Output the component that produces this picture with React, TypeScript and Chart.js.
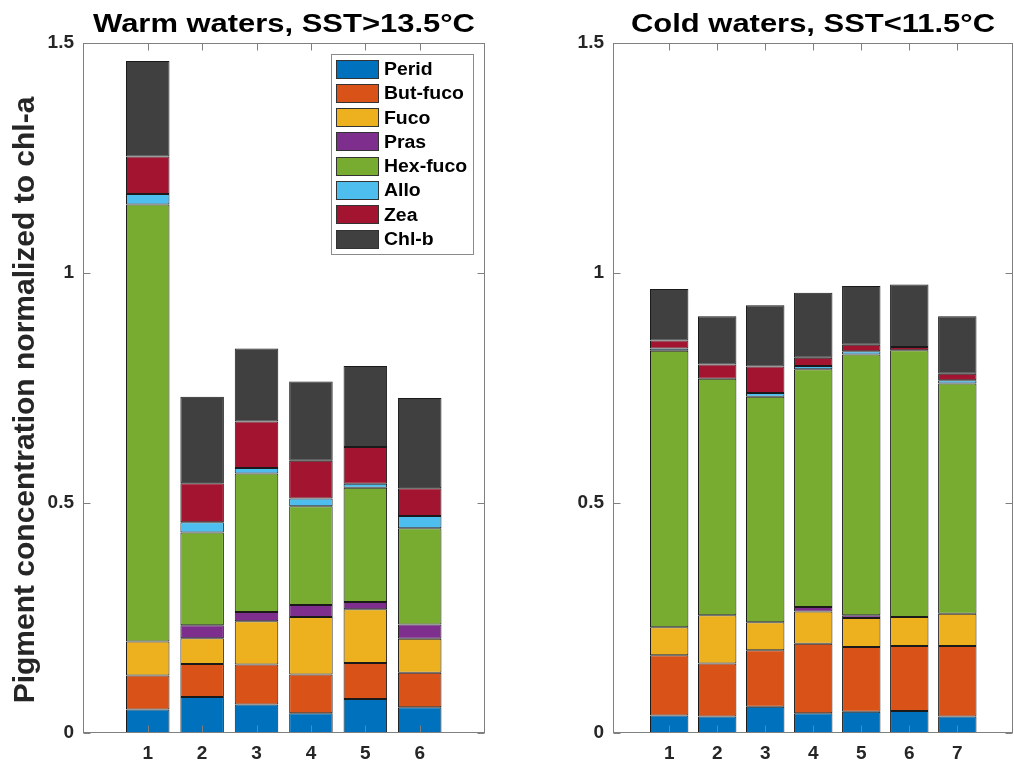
import React, { useEffect, useRef } from 'react';
import { Chart, registerables } from 'chart.js';

Chart.register(...registerables);

const FONT = "'Liberation Sans', Arial, Helvetica, sans-serif";

// ---- data ----
const pigments = ['Perid', 'But-fuco', 'Fuco', 'Pras', 'Hex-fuco', 'Allo', 'Zea', 'Chl-b'];
const pigmentColors = ['#0072BD', '#D95319', '#EDB120', '#7E2F8E', '#77AC30', '#4DBEEE', '#A2142F', '#404040'];

const yTicks = [0, 0.5, 1, 1.5];

const warmCats = [1, 2, 3, 4, 5, 6];
const warmPerid = [0.051, 0.078, 0.062, 0.043, 0.074, 0.056];
const warmButfuco = [0.074, 0.072, 0.087, 0.084, 0.078, 0.075];
const warmFuco = [0.074, 0.056, 0.094, 0.125, 0.117, 0.074];
const warmPras = [0, 0.028, 0.02, 0.026, 0.016, 0.031];
const warmHexfuco = [0.95, 0.202, 0.301, 0.215, 0.248, 0.209];
const warmAllo = [0.023, 0.022, 0.012, 0.017, 0.009, 0.027];
const warmZea = [0.081, 0.085, 0.101, 0.082, 0.08, 0.06];
const warmChlb = [0.208, 0.188, 0.159, 0.172, 0.176, 0.196];

const coldCats = [1, 2, 3, 4, 5, 6, 7];
const coldPerid = [0.038, 0.036, 0.057, 0.043, 0.046, 0.048, 0.036];
const coldButfuco = [0.131, 0.115, 0.123, 0.151, 0.141, 0.141, 0.153];
const coldFuco = [0.061, 0.105, 0.061, 0.07, 0.063, 0.063, 0.07];
const coldPras = [0, 0, 0, 0.01, 0.006, 0, 0];
const coldHexfuco = [0.601, 0.514, 0.49, 0.517, 0.567, 0.58, 0.501];
const coldAllo = [0.005, 0, 0.008, 0.007, 0.007, 0, 0.007];
const coldZea = [0.017, 0.031, 0.058, 0.018, 0.014, 0.007, 0.014];
const coldChlb = [0.112, 0.105, 0.133, 0.141, 0.128, 0.136, 0.125];

const warmSeries = [warmPerid, warmButfuco, warmFuco, warmPras, warmHexfuco, warmAllo, warmZea, warmChlb];
const coldSeries = [coldPerid, coldButfuco, coldFuco, coldPras, coldHexfuco, coldAllo, coldZea, coldChlb];

const warmTitle = 'Warm waters, SST>13.5°C';
const coldTitle = 'Cold waters, SST<11.5°C';
const yLabel = 'Pigment concentration normalized to chl-a';

// ---- styles ----
const AXIS_COLOR = '#808080';
const TEXT_COLOR = '#262626';
const TICK_LEN = 7;

interface PanelSpec {
  title: string;
  cats: number[];
  series: number[][];
  xMin: number;
  xMax: number;
  yAxisWidth: number;
  padRight: number;
  showLegend: boolean;
  showYLabel: boolean;
}

function panelPlugin(spec: PanelSpec) {
  return {
    id: 'matlabPanel',
    afterDatasetsDraw(chart: any) {
      const { ctx, chartArea: a, scales } = chart;
      const xs = scales.x;
      const ys = scales.y;
      ctx.save();
      // box
      ctx.strokeStyle = AXIS_COLOR;
      ctx.lineWidth = 1;
      const L = Math.round(a.left) + 0.5;
      const R = Math.round(a.right) - 0.5;
      const T = Math.round(a.top) + 0.5;
      const B = Math.round(a.bottom) - 0.5;
      ctx.strokeRect(L, T, R - L, B - T);
      // ticks (inward)
      ctx.beginPath();
      for (const t of yTicks) {
        const py = Math.round(ys.getPixelForValue(t)) + 0.5;
        ctx.moveTo(L, py);
        ctx.lineTo(L + TICK_LEN, py);
        ctx.moveTo(R, py);
        ctx.lineTo(R - TICK_LEN, py);
      }
      for (const c of spec.cats) {
        const px = Math.round(xs.getPixelForValue(c)) + 0.5;
        ctx.moveTo(px, B);
        ctx.lineTo(px, B - TICK_LEN);
        ctx.moveTo(px, T);
        ctx.lineTo(px, T + TICK_LEN);
      }
      ctx.stroke();

      // title
      ctx.fillStyle = '#000';
      ctx.font = `bold 26px ${FONT}`;
      ctx.textAlign = 'center';
      ctx.textBaseline = 'alphabetic';
      const cx = (a.left + a.right) / 2;
      ctx.save();
      ctx.translate(cx, 32);
      ctx.scale(1.19, 1);
      ctx.fillText(spec.title, 0, 0);
      ctx.restore();

      // y label
      if (spec.showYLabel) {
        ctx.save();
        ctx.font = `bold 30px ${FONT}`;
        ctx.fillStyle = TEXT_COLOR;
        ctx.translate(34, 400);
        ctx.rotate(-Math.PI / 2);
        ctx.textAlign = 'center';
        ctx.fillText(yLabel, 0, 0);
        ctx.restore();
      }

      // legend
      if (spec.showLegend) {
        const bw = 142;
        const bh = 200;
        const bx = Math.round(a.right) - 12 - bw;
        const by = Math.round(a.top) + 11;
        ctx.fillStyle = '#fff';
        ctx.fillRect(bx, by, bw, bh);
        ctx.strokeStyle = '#8a8a8a';
        ctx.strokeRect(bx + 0.5, by + 0.5, bw, bh);
        chart.data.datasets.forEach((ds: any, i: number) => {
          const cy = by + 15 + i * 24.3;
          ctx.fillStyle = ds.backgroundColor;
          ctx.fillRect(bx + 5, Math.round(cy - 9.5), 43, 19);
          ctx.strokeStyle = '#333';
          ctx.strokeRect(bx + 5.5, Math.round(cy - 9.5) + 0.5, 42, 18);
          ctx.fillStyle = '#000';
          ctx.font = `bold 18px ${FONT}`;
          ctx.textAlign = 'left';
          ctx.textBaseline = 'middle';
          ctx.save();
          ctx.translate(bx + 53, cy + 1);
          ctx.scale(1.08, 1);
          ctx.fillText(ds.label, 0, 0);
          ctx.restore();
        });
      }
      ctx.restore();
    },
  };
}

function buildConfig(spec: PanelSpec): any {
  return {
    type: 'bar',
    data: {
      datasets: pigments.map((name, i) => ({
        label: name,
        data: spec.cats.map((c, j) => ({ x: c, y: spec.series[i][j] })),
        backgroundColor: pigmentColors[i],
        borderColor: '#1a1a1a',
        borderWidth: 1,
        borderSkipped: false,
        categoryPercentage: 1,
        barPercentage: 0.8,
      })),
    },
    options: {
      responsive: false,
      animation: false,
      events: [],
      layout: { padding: { top: 43, right: spec.padRight, left: 0, bottom: 0 } },
      plugins: {
        legend: { display: false },
        title: { display: false },
        tooltip: { enabled: false },
      },
      scales: {
        x: {
          type: 'linear',
          min: spec.xMin,
          max: spec.xMax,
          offset: false,
          stacked: true,
          grid: { display: false, drawTicks: false },
          border: { display: false },
          afterBuildTicks: (scale: any) => {
            scale.ticks = spec.cats.map((v) => ({ value: v }));
          },
          afterFit: (scale: any) => {
            scale.height = 34;
          },
          ticks: {
            autoSkip: false,
            maxRotation: 0,
            padding: 9,
            color: TEXT_COLOR,
            font: { family: FONT, size: 19, weight: 'bold' },
            callback: (v: any) => String(v),
          },
        },
        y: {
          type: 'linear',
          min: 0,
          max: 1.5,
          stacked: true,
          grid: { display: false, drawTicks: false },
          border: { display: false },
          afterBuildTicks: (scale: any) => {
            scale.ticks = yTicks.map((v) => ({ value: v }));
          },
          afterFit: (scale: any) => {
            scale.width = spec.yAxisWidth;
          },
          ticks: {
            padding: 9,
            color: TEXT_COLOR,
            font: { family: FONT, size: 19, weight: 'bold' },
            callback: (v: any) => String(v),
          },
        },
      },
    },
    plugins: [panelPlugin(spec)],
  };
}

const warmSpec: PanelSpec = {
  title: warmTitle,
  cats: warmCats,
  series: warmSeries,
  xMin: -0.19,
  xMax: 7.2,
  yAxisWidth: 83,
  padRight: 22,
  showLegend: true,
  showYLabel: true,
};

const coldSpec: PanelSpec = {
  title: coldTitle,
  cats: coldCats,
  series: coldSeries,
  xMin: -0.17,
  xMax: 8.16,
  yAxisWidth: 106,
  padRight: 1,
  showLegend: false,
  showYLabel: false,
};

function Panel({ spec, left }: { spec: PanelSpec; left: number }) {
  const ref = useRef<HTMLCanvasElement | null>(null);
  useEffect(() => {
    if (!ref.current) return;
    const chart = new Chart(ref.current, buildConfig(spec));
    return () => chart.destroy();
  }, [spec]);
  return (
    <canvas
      ref={ref}
      width={507}
      height={767}
      style={{ position: 'absolute', left, top: 0, width: 507, height: 767 }}
    />
  );
}

export default function App() {
  useEffect(() => {
    document.body.style.margin = '0';
    document.body.style.background = '#fff';
  }, []);
  return (
    <div style={{ position: 'relative', width: 1014, height: 767, background: '#fff', overflow: 'hidden' }}>
      <Panel spec={warmSpec} left={0} />
      <Panel spec={coldSpec} left={507} />
    </div>
  );
}
